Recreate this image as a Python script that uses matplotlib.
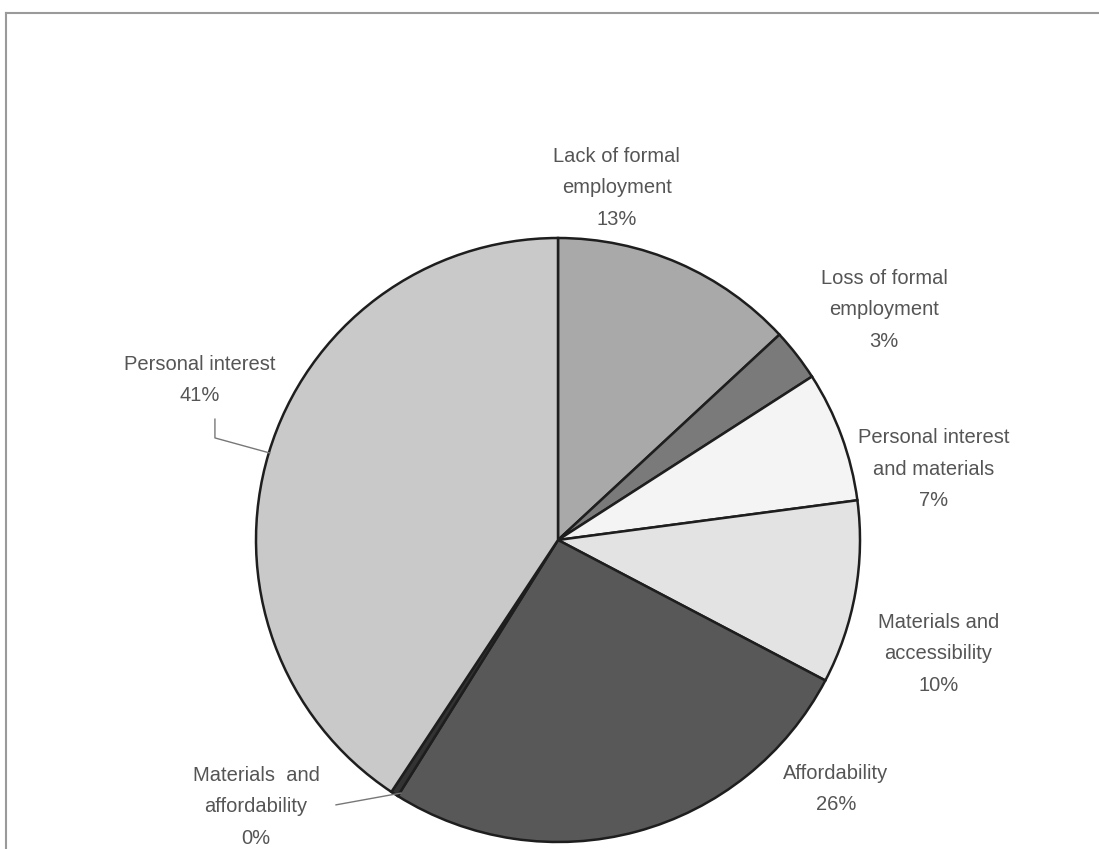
import matplotlib.pyplot as plt
from matplotlib.lines import Line2D

plt.rcParams['font.family'] = ['Liberation Sans', 'DejaVu Sans']

# shares (clockwise from 12 o'clock)
categories = ["Lack of formal\nemployment", "Loss of formal\nemployment",
              "Personal interest\nand materials", "Materials and\naccessibility",
              "Affordability", "Materials  and\naffordability", "Personal interest"]
shares = [13.1, 2.8, 7.0, 9.8, 26.2, 0.4, 40.7]
pct_labels = ["13%", "3%", "7%", "10%", "26%", "0%", "41%"]
colors = ["#a9a9a9", "#7a7a7a", "#f4f4f4", "#e3e3e3", "#585858", "#333333", "#c9c9c9"]

W, H = 1099, 849
cx, cy, r = 558, 540, 302

fig = plt.figure(figsize=(W / 100, H / 100), dpi=100)
ax = fig.add_axes([(cx - r) / W, (H - cy - r) / H, 2 * r / W, 2 * r / H])
ax.pie(shares, colors=colors, startangle=90, counterclock=False,
       wedgeprops=dict(edgecolor="#1e1e1e", linewidth=1.8))
ax.set_xlim(-1, 1)
ax.set_ylim(-1, 1)
ax.set_aspect("equal")
ax.axis("off")

# label positions in pie units
label_pos = [(0.195, 1.166), (1.08, 0.762), (1.245, 0.235), (1.26, -0.377),
             (0.92, -0.825), (-1.0, -0.884), (-1.185, 0.53)]
for cat, pct, (lx, ly) in zip(categories, pct_labels, label_pos):
    ax.text(lx, ly, cat + "\n" + pct, ha="center", va="center", fontsize=14.5,
            color="#555555", linespacing=1.83, clip_on=False)

# leader lines
ax.add_line(Line2D([-1.136, -1.136, -0.954], [0.40, 0.338, 0.288],
                   color="#777777", lw=1, clip_on=False))
ax.add_line(Line2D([-0.735, -0.52], [-0.877, -0.838],
                   color="#777777", lw=1, clip_on=False))

# scanned frame
fig.add_artist(Line2D([6 / W, 1.0], [1 - 13 / H, 1 - 13 / H], color="#9a9a9a", lw=1.5))
fig.add_artist(Line2D([6 / W, 6 / W], [0, 1 - 13 / H], color="#9a9a9a", lw=1.5))

fig.savefig("out.png", dpi=100)
